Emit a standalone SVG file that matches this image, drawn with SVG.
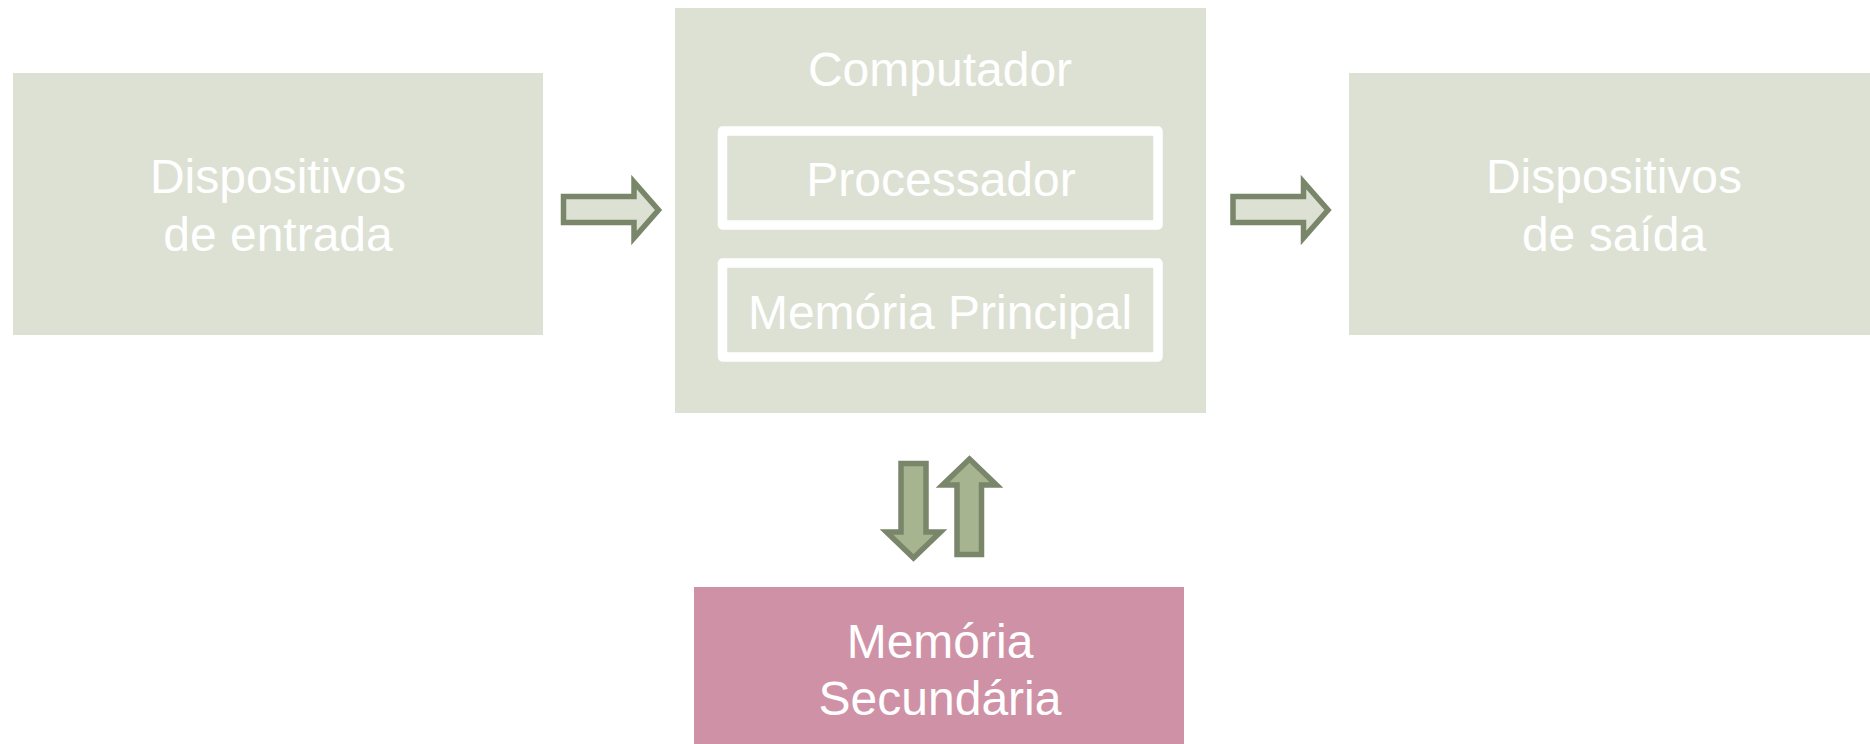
<svg xmlns="http://www.w3.org/2000/svg" width="1870" height="744" viewBox="0 0 1870 744">
<style>
.box{fill:#dde1d4}
.sec{fill:#cf91a6}
.inner{fill:none;stroke:#ffffff;stroke-width:9.5;stroke-linejoin:round}
.lbl{font-family:"Liberation Sans",Arial,sans-serif;font-size:48px;fill:#ffffff;text-anchor:middle}
.harrow{fill:#dde1d4;stroke:#7a866a;stroke-width:5.5;stroke-linejoin:miter}
.varrow{fill:#a6b490;stroke:#7a866a;stroke-width:5.5;stroke-linejoin:miter}
</style>
<rect width="1870" height="744" fill="#ffffff"/>
<g id="entrada">
<rect class="box" x="13" y="73" width="530" height="262"/>
<text class="lbl" x="278" y="193">Dispositivos</text>
<text class="lbl" x="278" y="251">de entrada</text>
</g>
<g id="computador">
<rect class="box" x="675" y="8" width="531" height="405"/>
<text class="lbl" x="940" y="86">Computador</text>
</g>
<g id="processador">
<rect class="inner" x="722.5" y="131" width="435.5" height="94"/>
<text class="lbl" x="941" y="196">Processador</text>
</g>
<g id="memoria-principal">
<rect class="inner" x="722.5" y="263" width="435.5" height="94"/>
<text class="lbl" x="940" y="329">Memória Principal</text>
</g>
<g id="saida">
<rect class="box" x="1349" y="73" width="530" height="262"/>
<text class="lbl" x="1614" y="193">Dispositivos</text>
<text class="lbl" x="1614" y="251">de saída</text>
</g>
<g id="memoria-secundaria">
<rect class="sec" x="694" y="587" width="490" height="160"/>
<text class="lbl" x="940" y="658">Memória</text>
<text class="lbl" x="940" y="715">Secundária</text>
</g>
<g id="connectors">
<path class="harrow" d="M563.5,196.5 H634 V182 L658.5,210 L634,238 V222.5 H563.5 Z"/>
<path class="harrow" d="M1233,196.5 H1303.5 V182 L1328,210 L1303.5,238 V222.5 H1233 Z"/>
<path class="varrow" d="M901,463.5 H926 V532 H940.5 L913.5,558 L886.5,532 H901 Z"/>
<path class="varrow" d="M957,554.5 V485 H942.5 L969.5,459 L996.5,485 H981.5 V554.5 Z"/>
</g>
</svg>
